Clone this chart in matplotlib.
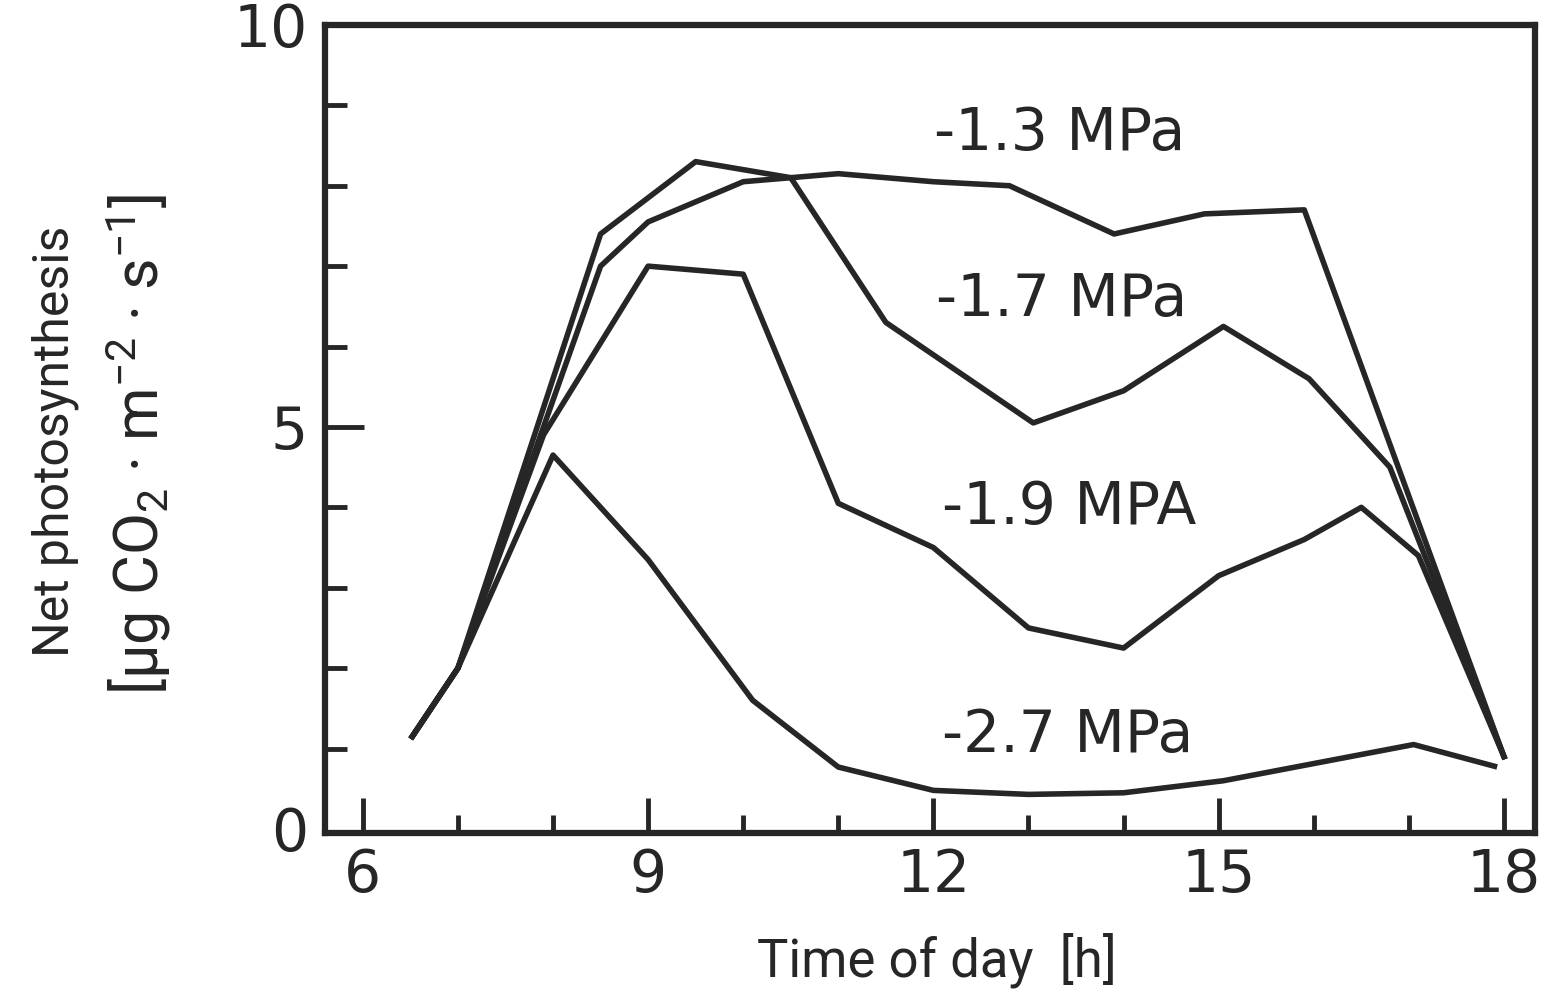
import matplotlib.pyplot as plt
import numpy as np

# readings taken off the figure (time of day in h, net photosynthesis)
hours_13 = [6.52, 7.0, 8.5, 9.0, 10.0, 10.5, 11.0, 12.0, 12.8, 13.9, 14.85, 15.9, 18.0]
photo_13 = [1.15, 2.0, 7.0, 7.55, 8.05, 8.1, 8.15, 8.05, 8.0, 7.4, 7.65, 7.7, 0.9]

hours_17 = [6.52, 7.0, 8.5, 9.5, 10.5, 11.5, 13.05, 14.0, 15.05, 15.95, 16.8, 18.0]
photo_17 = [1.15, 2.0, 7.4, 8.3, 8.1, 6.3, 5.05, 5.45, 6.25, 5.6, 4.5, 0.9]

hours_19 = [6.52, 7.0, 7.9, 9.0, 10.0, 11.0, 12.0, 13.0, 14.0, 15.0, 15.9, 16.5, 17.1, 18.0]
photo_19 = [1.15, 2.0, 4.9, 7.0, 6.9, 4.05, 3.5, 2.5, 2.25, 3.15, 3.6, 4.0, 3.4, 0.9]

hours_27 = [6.52, 7.0, 8.0, 9.0, 10.1, 11.0, 12.0, 13.0, 14.0, 15.05, 17.05, 17.9]
photo_27 = [1.15, 2.0, 4.65, 3.35, 1.6, 0.77, 0.48, 0.43, 0.45, 0.6, 1.05, 0.78]

curve_labels = ['-1.3 MPa', '-1.7 MPa', '-1.9 MPA', '-2.7 MPa']
label_pos = [(13.33, 8.65), (13.35, 6.59), (13.43, 4.0), (13.41, 1.16)]

ink = '#262626'
narrow = ['Roboto', 'DejaVu Sans']

fig = plt.figure(figsize=(15.54, 9.97), dpi=100)
ax = fig.add_axes([0.209, 0.1645, 0.779, 0.8105])

for t, v in [(hours_13, photo_13), (hours_17, photo_17), (hours_19, photo_19), (hours_27, photo_27)]:
    ax.plot(t, v, color=ink, lw=4)

for txt, (x, y) in zip(curve_labels, label_pos):
    ax.text(x, y, txt, ha='center', va='center', fontsize=42, color=ink)

ax.set_xlim(5.6, 18.33)
ax.set_ylim(-0.05, 10)

ax.set_xticks([6, 9, 12, 15, 18])
ax.set_xticks([7, 8, 10, 11, 13, 14, 16, 17], minor=True)
ax.set_yticks([0, 5, 10])
ax.set_yticks([1, 2, 3, 4, 6, 7, 8, 9], minor=True)

ax.tick_params(axis='x', which='major', direction='in', length=25, width=3.5, pad=10, labelsize=42, colors=ink)
ax.tick_params(axis='x', which='minor', direction='in', length=13, width=3.5, colors=ink)
ax.tick_params(axis='y', which='major', direction='in', length=28, width=3.5, pad=12, labelsize=42, colors=ink)
ax.tick_params(axis='y', which='minor', direction='in', length=16, width=3.5, colors=ink)

# no tick marks at 0 and 10 on the y axis, only labels
yt = ax.yaxis.get_major_ticks()
yt[0].tick1line.set_visible(False)
yt[2].tick1line.set_visible(False)

for s in ax.spines.values():
    s.set_linewidth(4.5)
    s.set_color(ink)

fig.text(937 / 1554, 1 - 960 / 997, 'Time of day  [h]', ha='center', va='center',
         fontsize=38, family=narrow, color=ink)
fig.text(55 / 1554, 1 - 441 / 997, 'Net photosynthesis', ha='center', va='center',
         rotation=90, fontsize=36, family=narrow, color=ink)
fig.text(138 / 1554, 1 - 445 / 997,
         r'[$\mathregular{\mu}$g CO$\mathregular{_2}$ · m$\mathregular{^{-2}}$ · s$\mathregular{^{-1}}$]',
         ha='center', va='center', rotation=90, fontsize=44, family=narrow, color=ink)

fig.savefig('out.png', dpi=100, facecolor='white')
